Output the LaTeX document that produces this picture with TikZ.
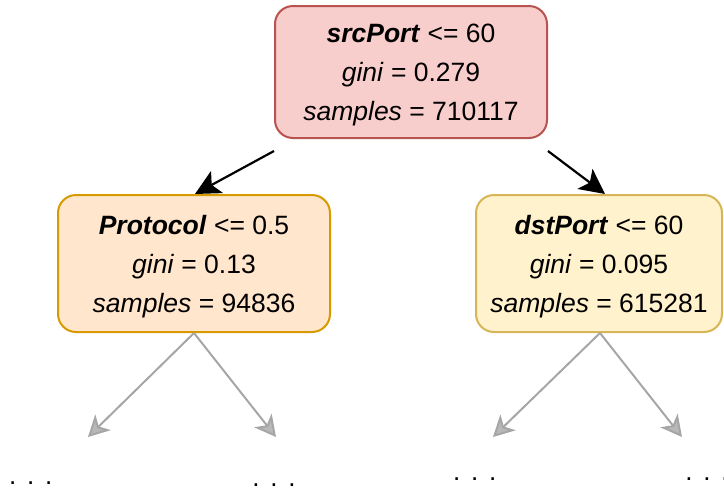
\documentclass[tikz,border=0pt]{standalone}
\usepackage{fontspec}
\setmainfont{Liberation Sans}
\usetikzlibrary{arrows.meta}
\definecolor{rootfill}{HTML}{F8CECC}
\definecolor{rootline}{HTML}{B85450}
\definecolor{leftfill}{HTML}{FFE6CC}
\definecolor{leftline}{HTML}{D79B00}
\definecolor{rightfill}{HTML}{FFF2CC}
\definecolor{rightline}{HTML}{D6B656}
\definecolor{grayline}{HTML}{A6A6A6}
\definecolor{grayfill}{HTML}{B8B8B8}
\tikzset{
  treebox/.style={rectangle, rounded corners=18pt, line width=2pt, inner sep=0pt,
    align=center, text depth=-4pt, font=\fontsize{26.5}{39}\selectfont},
  mainarrow/.style={line width=2.2pt, -{Stealth[length=25pt,width=25pt,inset=6pt]}},
  grayarrow/.style={line width=2pt, draw=grayline, -{Stealth[length=21pt,width=22pt,inset=6pt,fill=grayfill]}},
  dotsnode/.style={anchor=base, inner sep=0pt, font=\fontsize{26}{30}\selectfont}
}
\newcommand{\ddd}{.\hskip 10.8pt.\hskip 10.8pt.}
\begin{document}
\begin{tikzpicture}[x=1pt,y=-1pt]
\useasboundingbox (0,0) rectangle (724,491);
\node[treebox, fill=rootfill, draw=rootline, minimum width=272pt, minimum height=132pt] (root) at (411,72)
  {\textbf{\textit{srcPort}} <= 60\\\textit{gini} = 0.279\\\textit{samples} = 710117};
\node[treebox, fill=leftfill, draw=leftline, minimum width=272pt, minimum height=137pt] (left) at (194,263.5)
  {\textbf{\textit{Protocol}} <= 0.5\\\textit{gini} = 0.13\\\textit{samples} = 94836};
\node[treebox, fill=rightfill, draw=rightline, minimum width=246pt, minimum height=137pt] (right) at (599,263.5)
  {\textbf{\textit{dstPort}} <= 60\\\textit{gini} = 0.095\\\textit{samples} = 615281};
\coordinate (rl) at ([yshift=-12pt]root.south west);
\coordinate (rr) at ([yshift=-12pt]root.south east);
\draw[mainarrow] (rl) -- ([xshift=1pt]left.north);
\draw[mainarrow] (rr) -- ([xshift=6pt]right.north);
\coordinate (ll) at (88,437);
\coordinate (lr) at (276,437);
\coordinate (rl2) at (493,437);
\coordinate (rr2) at (682,437);
\draw[grayarrow] (left.south) -- (ll);
\draw[grayarrow] (left.south) -- (lr);
\draw[grayarrow] ([xshift=1pt]right.south) -- (rl2);
\draw[grayarrow] ([xshift=1pt]right.south) -- (rr2);
\node[dotsnode] (d1) at (30.7,484.5) {\ddd};
\node[dotsnode] (d2) at (274,486.5) {\ddd};
\node[dotsnode] (d3) at (474.7,480.5) {\ddd};
\node[dotsnode] (d4) at (707,480.5) {\ddd};
\end{tikzpicture}
\end{document}
